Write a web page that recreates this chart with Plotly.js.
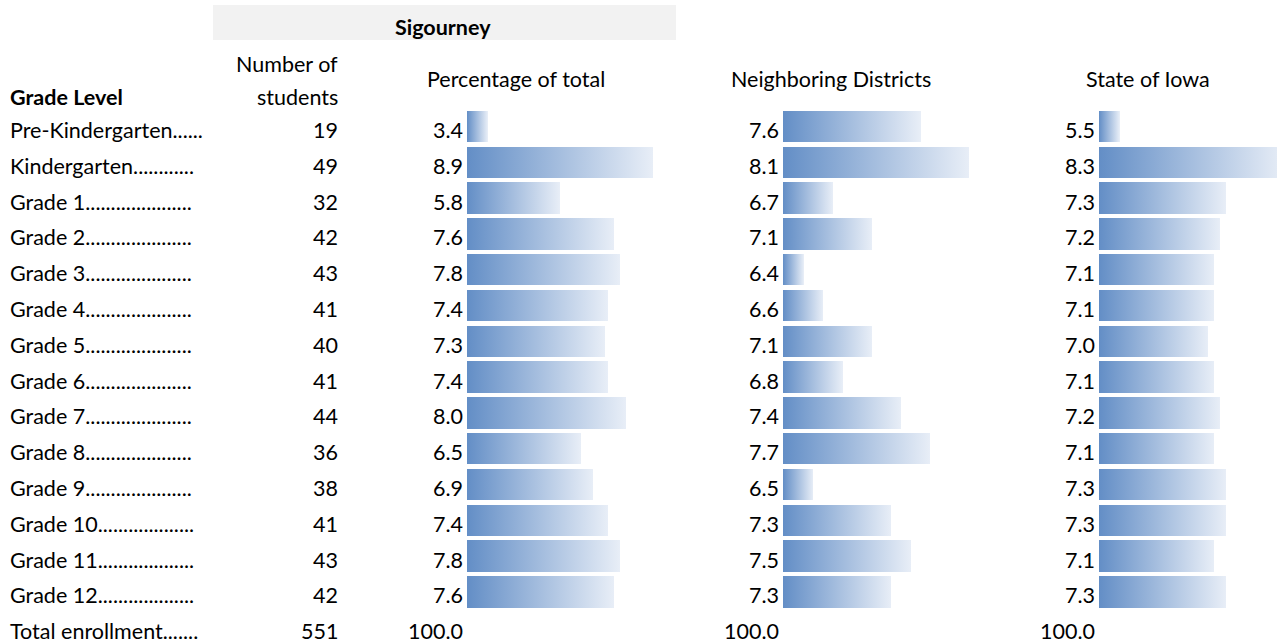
<!DOCTYPE html>
<html>
<head>
<meta charset="utf-8">
<script src="https://cdn.plot.ly/plotly-3.0.1.min.js"></script>
<style>
  html, body { margin: 0; padding: 0; background: #ffffff; }
  #chart { width: 1277px; height: 644px; }
</style>
</head>
<body>
<div id="chart"></div>
<script>
// ---------------- data ----------------
const groupHeader = "Sigourney";
const rowHeader = "Grade Level";
const studentsHeader = ["Number of", "students"];
const pctHeader = "Percentage of total";
const neighborHeader = "Neighboring Districts";
const stateHeader = "State of Iowa";

const grades = [
  "Pre-Kindergarten......",
  "Kindergarten............",
  "Grade 1.....................",
  "Grade 2.....................",
  "Grade 3.....................",
  "Grade 4.....................",
  "Grade 5.....................",
  "Grade 6.....................",
  "Grade 7.....................",
  "Grade 8.....................",
  "Grade 9.....................",
  "Grade 10...................",
  "Grade 11...................",
  "Grade 12..................."
];
const students     = [19, 49, 32, 42, 43, 41, 40, 41, 44, 36, 38, 41, 43, 42];
const pctOfTotal   = [3.4, 8.9, 5.8, 7.6, 7.8, 7.4, 7.3, 7.4, 8.0, 6.5, 6.9, 7.4, 7.8, 7.6];
const neighboring  = [7.6, 8.1, 6.7, 7.1, 6.4, 6.6, 7.1, 6.8, 7.4, 7.7, 6.5, 7.3, 7.5, 7.3];
const stateOfIowa  = [5.5, 8.3, 7.3, 7.2, 7.1, 7.1, 7.0, 7.1, 7.2, 7.1, 7.3, 7.3, 7.1, 7.3];

const totalLabel = "Total enrollment.......";
const totalStudents = 551;
const totalPct = [100.0, 100.0, 100.0];

// ---------------- layout constants (pixels) ----------------
const W = 1277, H = 644;
const FONT = "Lato, 'Open Sans', sans-serif";
const FS = 21.5;
const rowPitch = 35.8;
const firstBarCenter = 126.5;
const textShift = -3.5;
const cellW = 207;
const barStarts = [467, 783, 1099];
const valueGap = 4;

const px = v => v / W;
const py = v => 1 - v / H;

const seriesList = [pctOfTotal, neighboring, stateOfIowa];
const axisNames = ["x", "x2", "x3"];
const layoutAxisNames = ["xaxis", "xaxis2", "xaxis3"];

const traces = [];
const layout = {
  width: W, height: H,
  margin: {l: 0, r: 0, t: 0, b: 0, pad: 0},
  paper_bgcolor: "#ffffff",
  plot_bgcolor: "rgba(0,0,0,0)",
  showlegend: false,
  font: {family: FONT, size: FS, color: "#000000"},
  bargap: 0,
  yaxis: {
    domain: [0, 1],
    range: [(H - firstBarCenter) / rowPitch, -firstBarCenter / rowPitch],
    visible: false, fixedrange: true
  },
  shapes: [{
    type: "rect", xref: "paper", yref: "paper",
    x0: px(213), x1: px(676), y0: py(5), y1: py(40),
    fillcolor: "#F2F2F2", line: {width: 0}, layer: "below"
  }],
  annotations: []
};

const rowIdx = grades.map((g, i) => i);

seriesList.forEach((vals, k) => {
  const mn = Math.min(...vals), mx = Math.max(...vals);
  const s = 0.8 * cellW / (mx - mn);          // px per unit (Excel data-bar: 10%..90%)
  const a = mn - 0.1 * cellW / s;              // axis value at cell left
  const p0 = barStarts[k];
  const p1 = Math.min(p0 + cellW, W);
  layout[layoutAxisNames[k]] = {
    domain: [px(p0), px(p1)],
    range: [a, a + (p1 - p0) / s],
    anchor: "y", visible: false, fixedrange: true
  };
  traces.push({
    type: "bar", orientation: "h",
    xaxis: axisNames[k], yaxis: "y",
    y: rowIdx,
    x: vals.map(v => v - a),
    base: a,
    width: 0.88,
    marker: {color: "#8FAADA", line: {width: 0}},
    hoverinfo: "skip"
  });
});

function ann(text, x, yVal, opts) {
  layout.annotations.push(Object.assign({
    text: text, x: x, y: yVal, xref: "paper", yref: "y",
    showarrow: false, xanchor: "left", yanchor: "middle",
    yshift: textShift, borderpad: 0, borderwidth: 0,
    font: {family: FONT, size: FS, color: "#000000"}
  }, opts || {}));
}

// rows
grades.forEach((g, i) => {
  ann(g, px(10), i);
  ann(String(students[i]), px(338), i, {xanchor: "right"});
  seriesList.forEach((vals, k) => {
    ann(vals[i].toFixed(1), px(barStarts[k] - valueGap), i, {xanchor: "right"});
  });
});
// total row
const totRow = grades.length;
ann(totalLabel, px(10), totRow);
ann(String(totalStudents), px(338), totRow, {xanchor: "right"});
totalPct.forEach((v, k) => {
  ann(v.toFixed(1), px(barStarts[k] - valueGap), totRow, {xanchor: "right"});
});

// headers
function hdr(text, xpx, ypx, opts) {
  layout.annotations.push(Object.assign({
    text: text, x: px(xpx), y: py(ypx), xref: "paper", yref: "paper",
    showarrow: false, xanchor: "center", yanchor: "middle",
    borderpad: 0, borderwidth: 0,
    font: {family: FONT, size: FS, color: "#000000"}
  }, opts || {}));
}
hdr("<b>" + groupHeader + "</b>", 443, 27);
hdr(studentsHeader[0], 338, 64, {xanchor: "right"});
hdr(studentsHeader[1], 338, 97, {xanchor: "right"});
hdr(pctHeader, 516, 79);
hdr(neighborHeader, 831, 79);
hdr(stateHeader, 1148, 79);
hdr("<b>" + rowHeader + "</b>", 10, 97, {xanchor: "left"});

Plotly.newPlot("chart", traces, layout, {staticPlot: true, displayModeBar: false}).then(gd => {
  // Excel-style gradient data bars
  const svg = gd.querySelector("svg.main-svg");
  let defs = svg.querySelector("defs");
  const NS = "http://www.w3.org/2000/svg";
  if (!defs) { defs = document.createElementNS(NS, "defs"); svg.insertBefore(defs, svg.firstChild); }
  const lg = document.createElementNS(NS, "linearGradient");
  lg.setAttribute("id", "databarGrad");
  lg.setAttribute("x1", "0"); lg.setAttribute("y1", "0");
  lg.setAttribute("x2", "1"); lg.setAttribute("y2", "0");
  [["0%", "#638EC6"], ["100%", "#E8EEF7"]].forEach(([o, c]) => {
    const st = document.createElementNS(NS, "stop");
    st.setAttribute("offset", o); st.setAttribute("stop-color", c);
    lg.appendChild(st);
  });
  defs.appendChild(lg);
  gd.querySelectorAll(".barlayer .point path").forEach(p => {
    p.style.fill = "url(#databarGrad)";
  });
});
</script>
</body>
</html>
